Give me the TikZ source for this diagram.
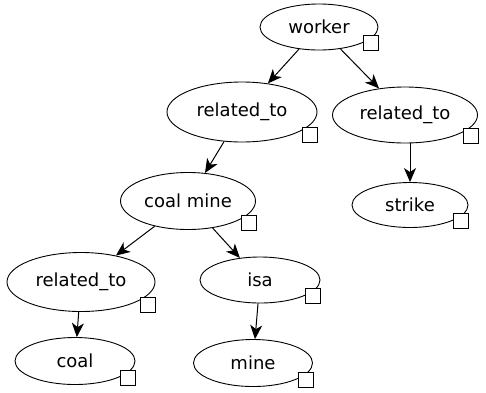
\documentclass[tikz,border=0pt]{standalone}
\usepackage{fontspec}
\setmainfont{DejaVu Sans}
\usetikzlibrary{arrows.meta,shapes.geometric}

% little square at the lower right corner of a concept
\newcommand{\handlebox}[1]{\node[handle] (#1-h) at (#1.east |- #1.south) {};}

\tikzset{
  concept/.style={ellipse, draw, line width=0.9pt, fill=white,
    minimum width=118pt, minimum height=46pt, inner sep=0pt,
    font=\fontsize{18}{21}\selectfont},
  handle/.style={draw, fill=white, line width=0.9pt, minimum size=15pt,
    inner sep=0pt, outer sep=0pt, anchor=south east},
  link/.style={-{Stealth[length=14pt,width=12pt,inset=4pt]}, line width=1pt}
}

\begin{document}
\begin{tikzpicture}[x=1pt,y=-1pt]
\useasboundingbox (0,0) rectangle (486,392);

% concepts
\node[concept] (worker) at (319,27) {worker};
\node[concept, minimum width=150pt, minimum height=60pt] (rel1) at (242,112) {related\_to};
\node[concept, minimum width=145pt, minimum height=56pt] (rel2) at (405,115) {related\_to};
\node[concept, minimum width=116pt, minimum height=45pt] (strike) at (410,205) {strike};
\node[concept, minimum width=135pt, minimum height=57pt] (coalmine) at (188,201) {coal mine};
\node[concept, minimum width=148pt, minimum height=59pt] (rel3) at (81,282) {related\_to};
\node[concept, minimum width=120pt, minimum height=47pt] (coal) at (75,361) {coal};
\node[concept, minimum width=120pt] (isa) at (260,280) {isa};
\node[concept, minimum width=119pt, minimum height=47pt] (mine) at (253,363) {mine};

% links
\draw[link] (worker) -- (rel1);
\draw[link] (worker) -- (rel2);
\draw[link] (rel2.south -| strike.north) -- (strike.north);
\draw[link] (rel1) -- (coalmine);
\draw[link] (coalmine) -- (rel3);
\draw[link] (coalmine) -- (isa);
\draw[link] (rel3) -- (coal);
\draw[link] (isa) -- (mine);

% handles
\handlebox{worker}
\handlebox{rel1}
\handlebox{rel2}
\handlebox{strike}
\handlebox{coalmine}
\handlebox{rel3}
\handlebox{coal}
\handlebox{isa}
\handlebox{mine}
\end{tikzpicture}
\end{document}
